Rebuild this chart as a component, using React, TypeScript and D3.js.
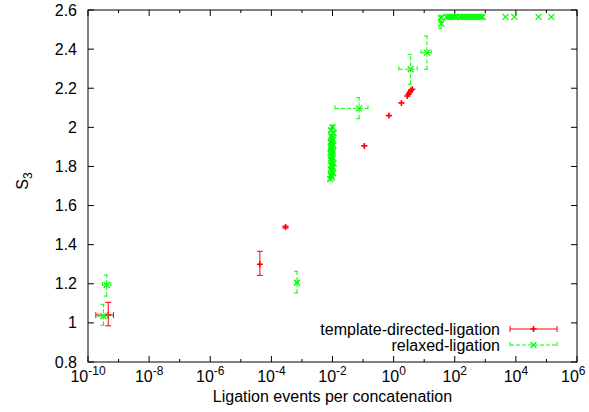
import React from "react";
import * as d3 from "d3";

// ---- data ----
const yTicks = [0.8, 1, 1.2, 1.4, 1.6, 1.8, 2, 2.2, 2.4, 2.6];
const xTickExps = [-10, -8, -6, -4, -2, 0, 2, 4, 6];
const xMinorExps = [-9, -7, -5, -3, -1, 1, 3, 5];

// template-directed-ligation
const redX = [4.6e-10, 4.2e-5, 2.9e-4, 0.11, 0.7, 1.8, 2.8, 3.1, 3.4, 3.7, 4.1];
const redY = [1.04, 1.3, 1.49, 1.905, 2.06, 2.125, 2.16, 2.17, 2.18, 2.19, 2.195];
const redXLow = [1.8e-10, 4.2e-5, 2.9e-4, 0.11, 0.7, 1.8, 2.8, 3.1, 3.4, 3.7, 4.1];
const redXHigh = [6.8e-10, 4.2e-5, 2.9e-4, 0.11, 0.7, 1.8, 2.8, 3.1, 3.4, 3.7, 4.1];
const redYLow = [0.985, 1.243, 1.485, 1.905, 2.06, 2.125, 2.16, 2.17, 2.18, 2.19, 2.195];
const redYHigh = [1.105, 1.366, 1.495, 1.905, 2.06, 2.125, 2.16, 2.17, 2.18, 2.19, 2.195];

// relaxed-ligation
const greenX = [
  3.2e-10, 4.1e-10, 6.9e-4, 0.074, 3.6, 12.3, 36, 36,
  0.0085, 0.0095, 0.009, 0.0105, 0.0098, 0.0088, 0.0102, 0.0093, 0.0108, 0.0096,
  0.0089, 0.0101, 0.0094, 0.0099, 0.0087, 0.0104, 0.0092, 0.0097, 0.0091, 0.0106,
  0.0095, 0.0088, 0.0103, 0.0098, 0.0093, 0.0109, 0.009, 0.0101,
  54, 62, 72, 83, 98, 115, 145, 166, 195, 224, 263, 302, 355, 407, 479, 550, 646, 741, 813,
  4570, 8900, 55000, 144500,
];
const greenY = [
  1.035, 1.194, 1.205, 2.097, 2.297, 2.382, 2.53, 2.56,
  1.735, 1.745, 1.755, 1.765, 1.775, 1.785, 1.795, 1.805, 1.815, 1.825,
  1.835, 1.845, 1.855, 1.862, 1.87, 1.878, 1.885, 1.893, 1.9, 1.908,
  1.915, 1.925, 1.935, 1.945, 1.955, 1.97, 1.985, 2.0,
  2.565, 2.565, 2.565, 2.565, 2.565, 2.565, 2.565, 2.565, 2.565, 2.565, 2.565, 2.565, 2.565, 2.565, 2.565, 2.565, 2.565, 2.565, 2.565,
  2.565, 2.565, 2.565, 2.565,
];
const greenXLow = [
  2.1e-10, 3.0e-10, 6.3e-4, 0.012, 1.48, 7.9, 35, 35,
  0.0082, 0.0092, 0.0087, 0.0101, 0.0095, 0.0085, 0.0099, 0.009, 0.0104, 0.0093,
  0.0086, 0.0098, 0.0091, 0.0096, 0.0084, 0.01, 0.0089, 0.0094, 0.0088, 0.0102,
  0.0092, 0.0085, 0.01, 0.0095, 0.009, 0.0105, 0.0087, 0.0098,
  54, 62, 72, 83, 98, 115, 145, 166, 195, 224, 263, 302, 355, 407, 479, 550, 646, 741, 813,
  4570, 8900, 55000, 144500,
];
const greenXHigh = [
  4.5e-10, 5.6e-10, 7.6e-4, 0.145, 5.9, 17, 37, 37,
  0.0088, 0.0098, 0.0093, 0.0109, 0.0101, 0.0091, 0.0105, 0.0096, 0.0112, 0.0099,
  0.0092, 0.0104, 0.0097, 0.0102, 0.009, 0.0108, 0.0095, 0.01, 0.0094, 0.011,
  0.0098, 0.0091, 0.0106, 0.0101, 0.0096, 0.0113, 0.0093, 0.0104,
  54, 62, 72, 83, 98, 115, 145, 166, 195, 224, 263, 302, 355, 407, 479, 550, 646, 741, 813,
  4570, 8900, 55000, 144500,
];
const greenYLow = [
  0.988, 1.137, 1.153, 2.044, 2.22, 2.297, 2.506, 2.555,
  1.728, 1.738, 1.748, 1.758, 1.768, 1.778, 1.788, 1.798, 1.808, 1.818,
  1.828, 1.838, 1.848, 1.855, 1.863, 1.871, 1.878, 1.886, 1.893, 1.901,
  1.908, 1.918, 1.928, 1.938, 1.948, 1.963, 1.978, 1.993,
  2.565, 2.565, 2.565, 2.565, 2.565, 2.565, 2.565, 2.565, 2.565, 2.565, 2.565, 2.565, 2.565, 2.565, 2.565, 2.565, 2.565, 2.565, 2.565,
  2.565, 2.565, 2.565, 2.565,
];
const greenYHigh = [
  1.095, 1.245, 1.264, 2.152, 2.373, 2.467, 2.545, 2.568,
  1.742, 1.752, 1.762, 1.772, 1.782, 1.792, 1.802, 1.812, 1.822, 1.832,
  1.842, 1.852, 1.862, 1.869, 1.877, 1.885, 1.892, 1.9, 1.907, 1.915,
  1.922, 1.932, 1.942, 1.952, 1.962, 1.977, 1.992, 2.007,
  2.565, 2.565, 2.565, 2.565, 2.565, 2.565, 2.565, 2.565, 2.565, 2.565, 2.565, 2.565, 2.565, 2.565, 2.565, 2.565, 2.565, 2.565, 2.565,
  2.565, 2.565, 2.565, 2.565,
];

const seriesNames = ["template-directed-ligation", "relaxed-ligation"];

// ---- layout ----
const W = 589;
const H = 412;
const L = 88;
const R = 577;
const T = 10;
const B = 362;
const FONT = "'Liberation Sans', Arial, Helvetica, sans-serif";
const FS = 16;
const RED = "#ff0000";
const GREEN = "#00ff00";

const x = d3.scaleLog().domain([1e-10, 1e6]).range([L, R]);
const y = d3.scaleLinear().domain([0.8, 2.6]).range([B, T]);

type Series = {
  xs: number[];
  ys: number[];
  xl: number[];
  xh: number[];
  yl: number[];
  yh: number[];
  color: string;
  dash?: string;
  marker: "plus" | "cross";
};

function ErrBars({ s }: { s: Series }) {
  const cap = 3;
  const els: React.ReactNode[] = [];
  s.xs.forEach((xv, i) => {
    const cx = x(xv);
    const cy = y(s.ys[i]);
    const y0 = y(s.yl[i]);
    const y1 = y(s.yh[i]);
    const x0 = x(s.xl[i]);
    const x1 = x(s.xh[i]);
    const common = { stroke: s.color, strokeWidth: 1, strokeDasharray: s.dash, fill: "none" };
    if (Math.abs(y0 - y1) > 0.5) {
      els.push(<line key={`v${i}`} x1={cx} x2={cx} y1={y0} y2={y1} {...common} />);
      els.push(<line key={`vc0${i}`} x1={cx - cap} x2={cx + cap} y1={y0} y2={y0} {...common} />);
      els.push(<line key={`vc1${i}`} x1={cx - cap} x2={cx + cap} y1={y1} y2={y1} {...common} />);
    }
    if (Math.abs(x0 - x1) > 0.5) {
      els.push(<line key={`h${i}`} x1={x0} x2={x1} y1={cy} y2={cy} {...common} />);
      els.push(<line key={`hc0${i}`} x1={x0} x2={x0} y1={cy - cap} y2={cy + cap} {...common} />);
      els.push(<line key={`hc1${i}`} x1={x1} x2={x1} y1={cy - cap} y2={cy + cap} {...common} />);
    }
    els.push(<Marker key={`m${i}`} cx={cx} cy={cy} type={s.marker} color={s.color} />);
  });
  return <g>{els}</g>;
}

function Marker({ cx, cy, type, color }: { cx: number; cy: number; type: "plus" | "cross"; color: string }) {
  const r = 3;
  if (type === "plus") {
    return (
      <path
        d={`M${cx - r},${cy}H${cx + r}M${cx},${cy - r}V${cy + r}`}
        stroke={color}
        strokeWidth={1.6}
        fill="none"
      />
    );
  }
  return (
    <path
      d={`M${cx - r},${cy - r}L${cx + r},${cy + r}M${cx - r},${cy + r}L${cx + r},${cy - r}`}
      stroke={color}
      strokeWidth={1.3}
      fill="none"
    />
  );
}

export default function App() {
  const red: Series = { xs: redX, ys: redY, xl: redXLow, xh: redXHigh, yl: redYLow, yh: redYHigh, color: RED, marker: "plus" };
  const green: Series = { xs: greenX, ys: greenY, xl: greenXLow, xh: greenXHigh, yl: greenYLow, yh: greenYHigh, color: GREEN, dash: "4,2", marker: "cross" };
  const legendY = [329, 345];
  const lx0 = 510;
  const lx1 = 557;
  return (
    <svg
      width={W}
      height={H}
      style={{ position: "absolute", left: 0, top: 0, background: "#fff" }}
      fontFamily={FONT}
    >
      <rect x={0} y={0} width={W} height={H} fill="#fff" />
      {/* y ticks */}
      {yTicks.map((t) => (
        <g key={`yt${t}`}>
          <line x1={L} x2={L + 6} y1={y(t)} y2={y(t)} stroke="#000" />
          <line x1={R} x2={R - 6} y1={y(t)} y2={y(t)} stroke="#000" />
          <text x={77} y={y(t)} dy="0.35em" textAnchor="end" fontSize={FS} fill="#000">
            {String(t)}
          </text>
        </g>
      ))}
      {/* x ticks */}
      {xTickExps.map((e) => (
        <g key={`xt${e}`}>
          <line x1={x(Math.pow(10, e))} x2={x(Math.pow(10, e))} y1={B} y2={B - 6} stroke="#000" />
          <line x1={x(Math.pow(10, e))} x2={x(Math.pow(10, e))} y1={T} y2={T + 6} stroke="#000" />
          <text x={x(Math.pow(10, e)) - (e === 6 ? 16 : 0)} y={382} textAnchor={e === 6 ? "start" : "middle"} fontSize={FS} fill="#000">
            <tspan>10</tspan>
            <tspan dy={-7} fontSize={12}>{String(e)}</tspan>
          </text>
        </g>
      ))}
      {xMinorExps.map((e) => (
        <g key={`xm${e}`}>
          <line x1={x(Math.pow(10, e))} x2={x(Math.pow(10, e))} y1={B} y2={B - 3} stroke="#000" />
          <line x1={x(Math.pow(10, e))} x2={x(Math.pow(10, e))} y1={T} y2={T + 3} stroke="#000" />
        </g>
      ))}
      {/* data */}
      <ErrBars s={red} />
      <ErrBars s={green} />
      {/* border */}
      <rect x={L} y={T} width={R - L} height={B - T} fill="none" stroke="#000" strokeWidth={1} />
      {/* legend */}
      {[red, green].map((s, i) => {
        const ly = legendY[i];
        const common = { stroke: s.color, strokeWidth: 1, strokeDasharray: s.dash };
        return (
          <g key={`lg${i}`}>
            <text x={500} y={ly} dy="0.35em" textAnchor="end" fontSize={FS} fill="#000">
              {seriesNames[i]}
            </text>
            <line x1={lx0} x2={lx1} y1={ly} y2={ly} {...common} />
            <line x1={lx0} x2={lx0} y1={ly - 3} y2={ly + 3} {...common} />
            <line x1={lx1} x2={lx1} y1={ly - 3} y2={ly + 3} {...common} />
            <Marker cx={(lx0 + lx1) / 2} cy={ly} type={s.marker} color={s.color} />
          </g>
        );
      })}
      {/* axis labels */}
      <text x={(L + R) / 2 + 0} y={402} textAnchor="middle" fontSize={FS} fill="#000">
        Ligation events per concatenation
      </text>
      <text transform={`translate(28,181) rotate(-90)`} textAnchor="middle" fontSize={FS} fill="#000">
        <tspan>S</tspan>
        <tspan dy={4} fontSize={12}>3</tspan>
      </text>
    </svg>
  );
}
